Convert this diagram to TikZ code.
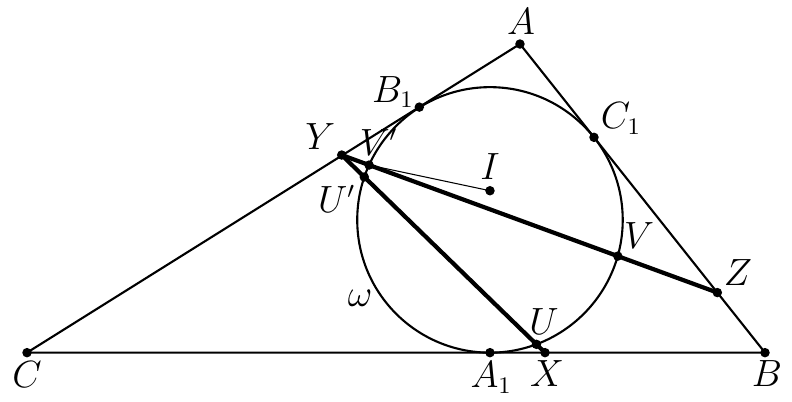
\documentclass[tikz,border=0pt]{standalone}
\usetikzlibrary{calc}
\def\dotat(#1){\fill (#1) circle (1.8pt);}
\tikzset{
	side/.style={line width=0.8pt},
	chord/.style={line width=1.6pt},
	lab/.style={font=\fontsize{13.5}{16}\selectfont, inner sep=0pt}
}

\begin{document}
\begin{tikzpicture}
			%%%%% START %%%%%
			\useasboundingbox (0, 0) rectangle (10.56, 5.347);
			
			% triangle and circle
			\coordinate (A) at (6.933, 4.76);
			\coordinate (B) at (10.2, 0.645);
			\coordinate (C) at (0.36, 0.645);
			\coordinate (O) at (6.533, 2.415);
			\coordinate (I) at (6.533, 2.804);
			
			\coordinate (A1) at (6.533, 0.645);
			\coordinate (B1) at (5.591, 3.919);
			\coordinate (C1) at (7.92, 3.516);
			
			% points on the lines
			\coordinate (Y) at (4.556, 3.28);
			\coordinate (Z) at (9.564, 1.446);
			\coordinate (X) at (7.267, 0.645);
			\coordinate (Vp) at (4.921, 3.146);
			\coordinate (V) at (8.237, 1.932);
			\coordinate (Up) at (4.857, 2.987);
			\coordinate (U) at (7.152, 0.756);
			
			\draw[side] (C) -- (B) -- (A) -- cycle;
			\draw[side] (O) circle (1.77);
			
			\draw[line width=0.4pt] (Vp) -- (I);
			\draw[chord] (Y) -- (Z);
			\draw[chord] (Y) -- (X);
			
			\dotat(A) \dotat(B) \dotat(C) \dotat(I)
			\dotat(A1) \dotat(B1) \dotat(C1)
			\dotat(Y) \dotat(Z) \dotat(X)
			\dotat(Vp) \dotat(V) \dotat(Up) \dotat(U)
			
			% labels
			\node[lab] (labA) at (6.947, 5.06) {$A$};
			\node[lab] (labB) at (10.227, 0.36) {$B$};
			\node[lab] (labC) at (0.36, 0.35) {$C$};
			\node[lab] (labA1) at (6.55, 0.31) {$A_1$};
			\node[lab] (labB1) at (5.24, 4.12) {$B_1$};
			\node[lab] (labC1) at (8.28, 3.77) {$C_1$};
			\node[lab] (labX) at (7.293, 0.36) {$X$};
			\node[lab] (labU) at (7.253, 1.06) {$U$};
			\node[lab] (labV) at (8.52, 2.2) {$V$};
			\node[lab] (labZ) at (9.84, 1.71) {$Z$};
			\node[lab] (labY) at (4.27, 3.53) {$Y$};
			\node[lab] (labVp) at (5.05, 3.45) {$V'$};
			\node[lab] (labUp) at (4.49, 2.69) {$U'$};
			\node[lab] (labI) at (6.533, 3.13) {$I$};
			\node[lab] (labw) at (4.8, 1.373) {$\omega$};
			
			%%%%% END %%%%%
\end{tikzpicture}
\end{document}
